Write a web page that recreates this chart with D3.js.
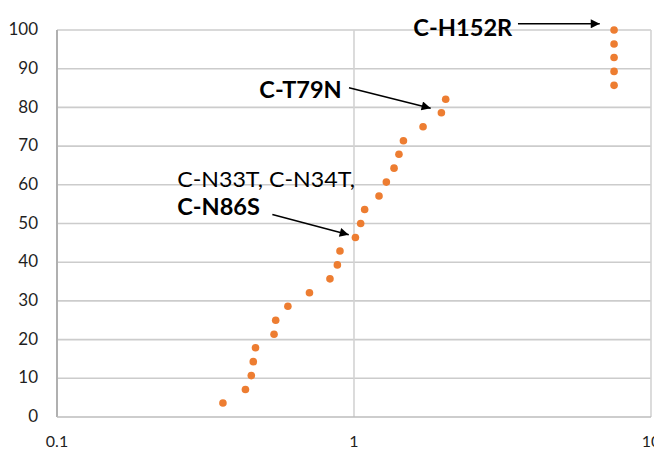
<!DOCTYPE html>
<html>
<head>
<meta charset="utf-8">
<script src="https://cdn.jsdelivr.net/npm/d3@7"></script>
<style>
  html, body { margin: 0; padding: 0; background: #fff; }
  svg { display: block; }
</style>
</head>
<body>
<svg id="chart" width="654" height="450"></svg>
<script>
// ---- data ----
const xValues = [0.362, 0.431, 0.451, 0.458, 0.466, 0.538, 0.545, 0.599, 0.708, 0.830,
                 0.879, 0.897, 1.011, 1.053, 1.086, 1.214, 1.285, 1.364, 1.417, 1.467,
                 1.708, 1.969, 2.036, 7.51, 7.51, 7.51, 7.51, 7.51];
const yValues = [3.6, 7.1, 10.7, 14.3, 17.9, 21.4, 25.0, 28.6, 32.1, 35.7,
                 39.3, 42.9, 46.4, 50.0, 53.6, 57.1, 60.7, 64.3, 67.9, 71.4,
                 75.0, 78.6, 82.1, 85.7, 89.3, 92.9, 96.4, 100];
const xTicks = [0.1, 1, 10];
const xTickLabels = ["0.1", "1", "10"];
const yTicks = [0, 10, 20, 30, 40, 50, 60, 70, 80, 90, 100];

// annotations (anchored in data units)
const annotationTexts = ["C-H152R", "C-T79N", "C-N33T, C-N34T,", "C-N86S"];
const annotationBold = [true, true, false, true];
const annotationX = [1.584, 0.480, 0.254, 0.254];
const annotationY = [98.45, 82.4, 59.5, 52.2];
const annotationWidth = [99, 82.4, 177.7, 82.7];

const arrowFromX = [3.565, 0.962, 0.531];
const arrowFromY = [101.6, 85.1, 52.3];
const arrowToX = [6.72, 1.812, 0.96];
const arrowToY = [101.6, 79.8, 47.1];

(function () {
// ---- layout ----
const mLeft = 57, mRight = 651, mTop = 30, mBottom = 417;
const svg = d3.select("#chart");
const x = d3.scaleLog().domain([0.1, 10]).range([mLeft, mRight]);
const y = d3.scaleLinear().domain([0, 100]).range([mBottom, mTop]);
const font = "Lato, 'Open Sans', sans-serif";

// horizontal gridlines
svg.append("g").selectAll("line").data(yTicks.filter(d => d > 0)).join("line")
  .attr("x1", mLeft).attr("x2", mRight)
  .attr("y1", d => y(d)).attr("y2", d => y(d))
  .attr("stroke", "#cccccc").attr("stroke-width", 1.6);

// vertical gridlines (decades)
svg.append("g").selectAll("line").data(xTicks.slice(1)).join("line")
  .attr("x1", d => x(d)).attr("x2", d => x(d))
  .attr("y1", mTop).attr("y2", mBottom)
  .attr("stroke", "#d3d3d3").attr("stroke-width", 1.6);

// axes lines
svg.append("line").attr("x1", mLeft).attr("x2", mLeft).attr("y1", mTop).attr("y2", mBottom)
  .attr("stroke", "#b0b0b0").attr("stroke-width", 2);
svg.append("line").attr("x1", mLeft).attr("x2", mRight).attr("y1", mBottom).attr("y2", mBottom)
  .attr("stroke", "#bdbdbd").attr("stroke-width", 1.6);

// y tick labels
svg.append("g").selectAll("text").data(yTicks).join("text")
  .attr("x", mLeft - 19).attr("y", d => y(d) + 0.8)
  .attr("text-anchor", "end").attr("dominant-baseline", "middle")
  .attr("font-family", font).attr("font-size", 17).attr("fill", "#1f1f1f")
  .text(d => d);

// x tick labels
svg.append("g").selectAll("text").data(xTicks).join("text")
  .attr("x", d => x(d)).attr("y", 447)
  .attr("text-anchor", "middle")
  .attr("font-family", font).attr("font-size", 16).attr("fill", "#1f1f1f")
  .text((d, i) => xTickLabels[i]);

// points
svg.append("g").selectAll("circle").data(xValues).join("circle")
  .attr("cx", d => x(d)).attr("cy", (d, i) => y(yValues[i]))
  .attr("r", 3.8).attr("fill", "#ED7D31");

// arrow marker
svg.append("defs").append("marker")
  .attr("id", "arr").attr("viewBox", "0 0 10 10")
  .attr("refX", 10).attr("refY", 5)
  .attr("markerWidth", 7).attr("markerHeight", 6)
  .attr("markerUnits", "strokeWidth")
  .attr("orient", "auto")
  .append("path").attr("d", "M0,0 L10,5 L0,10 Z").attr("fill", "#000");

svg.append("g").selectAll("line").data(arrowFromX).join("line")
  .attr("x1", d => x(d)).attr("y1", (d, i) => y(arrowFromY[i]))
  .attr("x2", (d, i) => x(arrowToX[i])).attr("y2", (d, i) => y(arrowToY[i]))
  .attr("stroke", "#000").attr("stroke-width", 1.5)
  .attr("marker-end", "url(#arr)");

// annotation texts
svg.append("g").selectAll("text").data(annotationTexts).join("text")
  .attr("x", (d, i) => x(annotationX[i])).attr("y", (d, i) => y(annotationY[i]))
  .attr("font-family", font).attr("font-size", 22)
  .attr("font-weight", (d, i) => annotationBold[i] ? "bold" : "normal")
  .attr("fill", "#000")
  .attr("textLength", (d, i) => annotationWidth[i])
  .attr("lengthAdjust", "spacingAndGlyphs")
  .text(d => d);
})();
</script>
</body>
</html>
